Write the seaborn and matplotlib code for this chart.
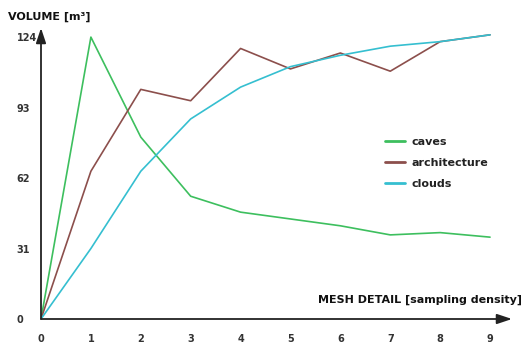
import matplotlib
matplotlib.use("Agg")
import matplotlib.pyplot as plt
import seaborn as sns
import pandas as pd

# Volume growth per sampling-density step
detail = [0, 1, 2, 3, 4, 5, 6, 7, 8, 9]
caves = [0, 124, 80, 54, 47, 44, 41, 37, 38, 36]
architecture = [0, 65, 101, 96, 119, 110, 117, 109, 122, 125]
clouds = [0, 31, 65, 88, 102, 111, 116, 120, 122, 125]
series_names = ["caves", "architecture", "clouds"]
series_colors = ["#3dbf5e", "#8c4f4c", "#35bfd0"]
y_ticks = [0, 31, 62, 93, 124]

df = pd.DataFrame({
    "detail": detail * 3,
    "volume": caves + architecture + clouds,
    "series": sum([[n] * len(detail) for n in series_names], []),
})

sns.set_style("white")
plt.rcParams["font.family"] = ["DejaVu Sans"]

fig = plt.figure(figsize=(5.28, 3.45), dpi=100)
W, H = 528, 345
x0, x1 = 41, 512
y_bot, y_top = 319, 28
ax = fig.add_axes([x0 / W, (H - y_bot) / H, (x1 - x0) / W, (y_bot - y_top) / H])

sns.lineplot(data=df, x="detail", y="volume", hue="series", hue_order=series_names,
             palette=series_colors, linewidth=1.2, ax=ax, legend=True)

ax.set_xlim(0, 9.44)
ax.set_ylim(0, 128)

for s in ax.spines.values():
    s.set_visible(False)

axis_col = "#555555"
# axis lines with arrow heads
ax.annotate("", xy=(1, 0), xycoords="axes fraction", xytext=(0, 0),
            arrowprops=dict(arrowstyle="-|>,head_length=0.9,head_width=0.3",
                            color="#222222", lw=1.3, shrinkA=0, shrinkB=0))
ax.annotate("", xy=(0, 1), xycoords="axes fraction", xytext=(0, 0),
            arrowprops=dict(arrowstyle="-|>,head_length=0.9,head_width=0.3",
                            color="#222222", lw=1.3, shrinkA=0, shrinkB=0))

ax.set_xticks(detail)
ax.set_yticks(y_ticks)
ax.tick_params(axis="both", direction="inout", length=7, width=1.0, color=axis_col,
               labelsize=7, labelcolor="#333333")
ax.tick_params(axis="x", pad=7)
ax.tick_params(axis="y", pad=14)
for lab in ax.get_xticklabels():
    lab.set_fontweight("bold")
for lab in ax.get_yticklabels():
    lab.set_fontweight("bold")
    lab.set_horizontalalignment("left")
ax.set_xlabel("")
ax.set_ylabel("")

fig.text(8 / W, 1 - 17 / H, "VOLUME [m³]", fontsize=8, fontweight="bold",
         color="#111111", va="center", ha="left")
fig.text(522 / W, 1 - 300 / H, "MESH DETAIL [sampling density]", fontsize=8,
         fontweight="bold", color="#111111", va="center", ha="right")

leg = ax.legend(loc="upper left", bbox_to_anchor=(375 / W, 1 - 127 / H),
                bbox_transform=fig.transFigure, frameon=False, fontsize=8,
                handlelength=1.8, handletextpad=0.6, labelspacing=1.0)
for t in leg.get_texts():
    t.set_fontweight("bold")
    t.set_color("#222222")
for l in leg.get_lines():
    l.set_linewidth(2)

fig.savefig("out.png", dpi=100)
